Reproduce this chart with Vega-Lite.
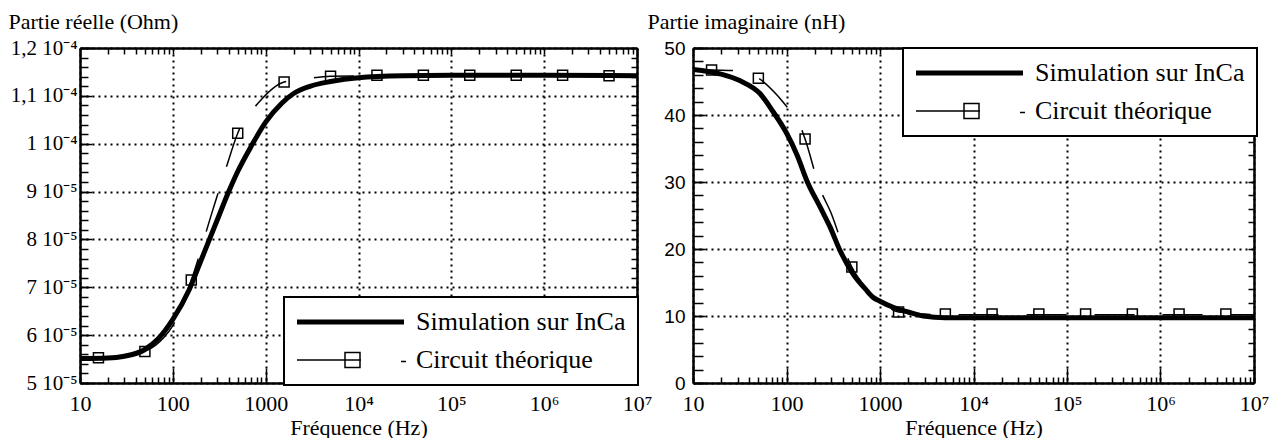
{
  "$schema": "https://vega.github.io/schema/vega-lite/v6.json",
  "background": "white",
  "padding": {"left": 8, "top": 10, "right": 0, "bottom": 0},
  "bounds": "flush",
  "spacing": 56,
  "config": {
    "font": "Liberation Serif",
    "view": {"stroke": null},
    "axis": {
      "domainColor": "black", "domainWidth": 2.5, "tickColor": "black", "tickWidth": 1.5,
      "labelColor": "black", "titleColor": "black", "labelFont": "Liberation Serif",
      "titleFont": "Liberation Serif", "titleFontWeight": "normal",
      "gridColor": "black", "gridDash": [2, 4], "gridWidth": 2, "gridOpacity": 1
    },
    "legend": {"labelFont": "Liberation Serif"}
  },
  "datasets": {
    "re": [
      {"k": "sim", "s": "Simulation sur InCa", "f": 10, "v": 5.51e-5},
      {"k": "sim", "s": "Simulation sur InCa", "f": 20, "v": 5.52e-5},
      {"k": "sim", "s": "Simulation sur InCa", "f": 30, "v": 5.56e-5},
      {"k": "sim", "s": "Simulation sur InCa", "f": 50, "v": 5.7e-5},
      {"k": "sim", "s": "Simulation sur InCa", "f": 70, "v": 5.93e-5},
      {"k": "sim", "s": "Simulation sur InCa", "f": 100, "v": 6.33e-5},
      {"k": "sim", "s": "Simulation sur InCa", "f": 150, "v": 6.95e-5},
      {"k": "sim", "s": "Simulation sur InCa", "f": 200, "v": 7.55e-5},
      {"k": "sim", "s": "Simulation sur InCa", "f": 300, "v": 8.4e-5},
      {"k": "sim", "s": "Simulation sur InCa", "f": 400, "v": 9.0e-5},
      {"k": "sim", "s": "Simulation sur InCa", "f": 500, "v": 9.42e-5},
      {"k": "sim", "s": "Simulation sur InCa", "f": 700, "v": 9.95e-5},
      {"k": "sim", "s": "Simulation sur InCa", "f": 1000, "v": 1.045e-4},
      {"k": "sim", "s": "Simulation sur InCa", "f": 1500, "v": 1.085e-4},
      {"k": "sim", "s": "Simulation sur InCa", "f": 2000, "v": 1.105e-4},
      {"k": "sim", "s": "Simulation sur InCa", "f": 3000, "v": 1.12e-4},
      {"k": "sim", "s": "Simulation sur InCa", "f": 5000, "v": 1.13e-4},
      {"k": "sim", "s": "Simulation sur InCa", "f": 10000, "v": 1.138e-4},
      {"k": "sim", "s": "Simulation sur InCa", "f": 30000, "v": 1.142e-4},
      {"k": "sim", "s": "Simulation sur InCa", "f": 100000, "v": 1.143e-4},
      {"k": "sim", "s": "Simulation sur InCa", "f": 1000000, "v": 1.143e-4},
      {"k": "sim", "s": "Simulation sur InCa", "f": 10000000, "v": 1.142e-4},
      {"k": "cir", "s": "Circuit théorique", "f": 10, "v": 5.5e-5},
      {"k": "cir", "s": "Circuit théorique", "f": 15.8, "v": 5.53e-5},
      {"k": "cir", "s": "Circuit théorique", "f": 30, "v": 5.57e-5},
      {"k": "cir", "s": "Circuit théorique", "f": 50, "v": 5.66e-5},
      {"k": "cir", "s": "Circuit théorique", "f": 80, "v": 5.95e-5},
      {"k": "cir", "s": "Circuit théorique", "f": 100, "v": 6.2e-5},
      {"k": "cir", "s": "Circuit théorique", "f": 158, "v": 7.15e-5},
      {"k": "cir", "s": "Circuit théorique", "f": 265, "v": 8.57e-5},
      {"k": "cir", "s": "Circuit théorique", "f": 374, "v": 9.49e-5},
      {"k": "cir", "s": "Circuit théorique", "f": 500, "v": 1.022e-4},
      {"k": "cir", "s": "Circuit théorique", "f": 850, "v": 1.087e-4},
      {"k": "cir", "s": "Circuit théorique", "f": 1580, "v": 1.129e-4},
      {"k": "cir", "s": "Circuit théorique", "f": 2400, "v": 1.134e-4},
      {"k": "cir", "s": "Circuit théorique", "f": 5000, "v": 1.141e-4},
      {"k": "cir", "s": "Circuit théorique", "f": 15800, "v": 1.142e-4},
      {"k": "cir", "s": "Circuit théorique", "f": 10000000, "v": 1.142e-4},
      {"k": "mk", "f": 15.8, "v": 5.53e-5},
      {"k": "mk", "f": 50, "v": 5.66e-5},
      {"k": "mk", "f": 158, "v": 7.15e-5},
      {"k": "mk", "f": 500, "v": 1.022e-4},
      {"k": "mk", "f": 1580, "v": 1.129e-4},
      {"k": "mk", "f": 5000, "v": 1.141e-4},
      {"k": "mk", "f": 15800, "v": 1.143e-4},
      {"k": "mk", "f": 50000, "v": 1.143e-4},
      {"k": "mk", "f": 158000, "v": 1.143e-4},
      {"k": "mk", "f": 500000, "v": 1.143e-4},
      {"k": "mk", "f": 1580000, "v": 1.143e-4},
      {"k": "mk", "f": 5000000, "v": 1.142e-4}
    ],
    "im": [
      {"k": "sim", "s": "Simulation sur InCa", "f": 10, "v": 46.8},
      {"k": "sim", "s": "Simulation sur InCa", "f": 20, "v": 46.1},
      {"k": "sim", "s": "Simulation sur InCa", "f": 32, "v": 45.1},
      {"k": "sim", "s": "Simulation sur InCa", "f": 52, "v": 43.2},
      {"k": "sim", "s": "Simulation sur InCa", "f": 71, "v": 40.6},
      {"k": "sim", "s": "Simulation sur InCa", "f": 101, "v": 37.2},
      {"k": "sim", "s": "Simulation sur InCa", "f": 130, "v": 34.0},
      {"k": "sim", "s": "Simulation sur InCa", "f": 165, "v": 30.2},
      {"k": "sim", "s": "Simulation sur InCa", "f": 230, "v": 26.2},
      {"k": "sim", "s": "Simulation sur InCa", "f": 292, "v": 23.3},
      {"k": "sim", "s": "Simulation sur InCa", "f": 373, "v": 19.8},
      {"k": "sim", "s": "Simulation sur InCa", "f": 514, "v": 16.3},
      {"k": "sim", "s": "Simulation sur InCa", "f": 700, "v": 14.0},
      {"k": "sim", "s": "Simulation sur InCa", "f": 841, "v": 12.8},
      {"k": "sim", "s": "Simulation sur InCa", "f": 1000, "v": 12.2},
      {"k": "sim", "s": "Simulation sur InCa", "f": 1380, "v": 11.3},
      {"k": "sim", "s": "Simulation sur InCa", "f": 2000, "v": 10.6},
      {"k": "sim", "s": "Simulation sur InCa", "f": 2900, "v": 10.0},
      {"k": "sim", "s": "Simulation sur InCa", "f": 5000, "v": 9.75},
      {"k": "sim", "s": "Simulation sur InCa", "f": 10000000, "v": 9.75},
      {"k": "cir", "s": "Circuit théorique", "f": 10, "v": 46.8},
      {"k": "cir", "s": "Circuit théorique", "f": 15.8, "v": 46.7},
      {"k": "cir", "s": "Circuit théorique", "f": 30, "v": 46.6},
      {"k": "cir", "s": "Circuit théorique", "f": 50, "v": 45.5},
      {"k": "cir", "s": "Circuit théorique", "f": 80, "v": 42.9},
      {"k": "cir", "s": "Circuit théorique", "f": 100, "v": 41.3},
      {"k": "cir", "s": "Circuit théorique", "f": 129, "v": 39.6},
      {"k": "cir", "s": "Circuit théorique", "f": 158, "v": 36.4},
      {"k": "cir", "s": "Circuit théorique", "f": 228, "v": 29.0},
      {"k": "cir", "s": "Circuit théorique", "f": 299, "v": 25.4},
      {"k": "cir", "s": "Circuit théorique", "f": 400, "v": 20.5},
      {"k": "cir", "s": "Circuit théorique", "f": 500, "v": 17.3},
      {"k": "cir", "s": "Circuit théorique", "f": 700, "v": 14.3},
      {"k": "cir", "s": "Circuit théorique", "f": 1000, "v": 12.3},
      {"k": "cir", "s": "Circuit théorique", "f": 1580, "v": 10.6},
      {"k": "cir", "s": "Circuit théorique", "f": 5000, "v": 10.2},
      {"k": "cir", "s": "Circuit théorique", "f": 10000000, "v": 10.2},
      {"k": "mk", "f": 15.8, "v": 46.7},
      {"k": "mk", "f": 50, "v": 45.5},
      {"k": "mk", "f": 158, "v": 36.4},
      {"k": "mk", "f": 500, "v": 17.3},
      {"k": "mk", "f": 1580, "v": 10.6},
      {"k": "mk", "f": 5000, "v": 10.3},
      {"k": "mk", "f": 15800, "v": 10.3},
      {"k": "mk", "f": 50000, "v": 10.3},
      {"k": "mk", "f": 158000, "v": 10.3},
      {"k": "mk", "f": 500000, "v": 10.3},
      {"k": "mk", "f": 1580000, "v": 10.3},
      {"k": "mk", "f": 5000000, "v": 10.3}
    ]
  },
  "resolve": {
    "scale": {"x": "independent", "y": "independent", "stroke": "independent", "strokeWidth": "independent"},
    "legend": {"stroke": "independent", "strokeWidth": "independent"}
  },
  "hconcat": [
    {
      "width": 557,
      "height": 335,
      "data": {"name": "re"},
      "resolve": {"axis": {"x": "independent", "y": "independent"}},
      "layer": [
        {
          "transform": [{"filter": "datum.k == 'cir'"}],
          "mark": {"type": "line", "strokeDash": [40, 28], "interpolate": "monotone"},
          "encoding": {
            "x": {"field": "f", "type": "quantitative", "scale": {"type": "log", "domain": [10, 10000000], "nice": false},
              "axis": {"orient": "bottom", "values": [10,20,30,40,50,60,70,80,90,100,200,300,400,500,600,700,800,900,1000,2000,3000,4000,5000,6000,7000,8000,9000,10000,20000,30000,40000,50000,60000,70000,80000,90000,100000,200000,300000,400000,500000,600000,700000,800000,900000,1000000,2000000,3000000,4000000,5000000,6000000,7000000,8000000,9000000,10000000], "labels": false, "grid": false, "domain": false, "tickSize": -6, "title": null}},
            "y": {"field": "v", "type": "quantitative", "scale": {"domain": [0.00005, 0.00012], "nice": false, "zero": false},
              "axis": {"orient": "left", "values": [0.00005,0.000052,0.000054,0.000056,0.000058,0.00006,0.000062,0.000064,0.000066,0.000068,0.00007,0.000072,0.000074,0.000076,0.000078,0.00008,0.000082,0.000084,0.000086,0.000088,0.00009,0.000092,0.000094,0.000096,0.000098,0.0001,0.000102,0.000104,0.000106,0.000108,0.00011,0.000112,0.000114,0.000116,0.000118,0.00012], "labels": false, "grid": false, "domain": false, "tickSize": -8, "title": null}},
            "stroke": {"field": "s", "type": "nominal", "scale": {"domain": ["Simulation sur InCa", "Circuit théorique"], "range": ["black", "black"]}},
            "strokeWidth": {"field": "s", "type": "ordinal", "scale": {"domain": ["Simulation sur InCa", "Circuit théorique"], "range": [5, 1.5]}}
          }
        },
        {
          "transform": [{"filter": "datum.k == 'sim'"}],
          "mark": {"type": "line", "interpolate": "monotone"},
          "encoding": {
            "x": {"field": "f", "type": "quantitative", "scale": {"type": "log", "domain": [10, 10000000], "nice": false},
              "axis": {"orient": "bottom", "values": [10,100,1000,10000,100000,1000000,10000000], "labelExpr": "datum.value == 10 ? '10' : datum.value == 100 ? '100' : datum.value == 1000 ? '1000' : datum.value == 10000 ? '10⁴' : datum.value == 100000 ? '10⁵' : datum.value == 1000000 ? '10⁶' : '10⁷'", "grid": true, "tickSize": -15, "labelPadding": 25, "labelFontSize": 22, "labelFlush": false, "title": "Fréquence (Hz)", "titleFontSize": 22, "titlePadding": 3}},
            "y": {"field": "v", "type": "quantitative", "scale": {"domain": [0.00005, 0.00012], "nice": false, "zero": false},
              "axis": {"orient": "left", "values": [0.00005,0.00006,0.00007,0.00008,0.00009,0.0001,0.00011,0.00012], "labelExpr": "datum.value < 0.0000999 ? format(round(datum.value*100000),'d') + ' 10⁻⁵' : replace(format(datum.value*10000,'.1~f'),'.',',') + ' 10⁻⁴'", "grid": true, "tickSize": -12, "labelPadding": 15, "labelFontSize": 21, "labelFlush": false, "title": "Partie réelle (Ohm)", "titleAngle": 0, "titleAlign": "left", "titleBaseline": "alphabetic", "titleX": -72, "titleY": -20, "titleFontSize": 22}},
            "stroke": {"field": "s", "type": "nominal", "scale": {"domain": ["Simulation sur InCa", "Circuit théorique"], "range": ["black", "black"]},
              "legend": {"title": null, "orient": "none", "legendX": 204, "legendY": 249, "fillColor": "white", "strokeColor": "black", "padding": 12, "rowPadding": 12, "labelFontSize": 26, "labelColor": "black", "labelLimit": 500, "labelOffset": 94, "symbolSize": 100, "symbolOffset": 0,
                "encode": {
                  "symbols": {"update": {"shape": {"signal": "datum.value == 'Simulation sur InCa' ? 'M-2.4,0H19' : 'M-2.4,0H10.4M7.2,-1.5H10.2V1.5H7.2ZM18.4,0.3H19.4'"}, "strokeDash": {"value": []}, "fill": {"value": "transparent"}, "opacity": {"value": 1}}},
                  "legend": {"update": {"strokeWidth": {"value": 2}}}
                }}},
            "strokeWidth": {"field": "s", "type": "ordinal", "scale": {"domain": ["Simulation sur InCa", "Circuit théorique"], "range": [5, 1.5]}}
          }
        },
        {
          "transform": [{"filter": "datum.k == 'mk'"}],
          "mark": {"type": "point", "shape": "square", "size": 100, "filled": false, "stroke": "black", "strokeWidth": 1.5, "opacity": 1},
          "encoding": {
            "x": {"field": "f", "type": "quantitative", "scale": {"type": "log", "domain": [10, 10000000], "nice": false},
              "axis": {"orient": "top", "values": [10,20,30,40,50,60,70,80,90,100,200,300,400,500,600,700,800,900,1000,2000,3000,4000,5000,6000,7000,8000,9000,10000,20000,30000,40000,50000,60000,70000,80000,90000,100000,200000,300000,400000,500000,600000,700000,800000,900000,1000000,2000000,3000000,4000000,5000000,6000000,7000000,8000000,9000000,10000000], "labels": false, "grid": false, "tickSize": -6, "title": null}},
            "y": {"field": "v", "type": "quantitative", "scale": {"domain": [0.00005, 0.00012], "nice": false, "zero": false},
              "axis": {"orient": "right", "values": [0.00005,0.000052,0.000054,0.000056,0.000058,0.00006,0.000062,0.000064,0.000066,0.000068,0.00007,0.000072,0.000074,0.000076,0.000078,0.00008,0.000082,0.000084,0.000086,0.000088,0.00009,0.000092,0.000094,0.000096,0.000098,0.0001,0.000102,0.000104,0.000106,0.000108,0.00011,0.000112,0.000114,0.000116,0.000118,0.00012], "labels": false, "grid": false, "tickSize": -6, "title": null}}
          }
        }
      ]
    },
    {
      "width": 561,
      "height": 335,
      "data": {"name": "im"},
      "resolve": {"axis": {"x": "independent", "y": "independent"}},
      "layer": [
        {
          "transform": [{"filter": "datum.k == 'cir'"}],
          "mark": {"type": "line", "strokeDash": [40, 28], "interpolate": "monotone"},
          "encoding": {
            "x": {"field": "f", "type": "quantitative", "scale": {"type": "log", "domain": [10, 10000000], "nice": false},
              "axis": {"orient": "bottom", "values": [10,20,30,40,50,60,70,80,90,100,200,300,400,500,600,700,800,900,1000,2000,3000,4000,5000,6000,7000,8000,9000,10000,20000,30000,40000,50000,60000,70000,80000,90000,100000,200000,300000,400000,500000,600000,700000,800000,900000,1000000,2000000,3000000,4000000,5000000,6000000,7000000,8000000,9000000,10000000], "labels": false, "grid": false, "domain": false, "tickSize": -6, "title": null}},
            "y": {"field": "v", "type": "quantitative", "scale": {"domain": [0, 50], "nice": false},
              "axis": {"orient": "left", "values": [0,2,4,6,8,10,12,14,16,18,20,22,24,26,28,30,32,34,36,38,40,42,44,46,48,50], "labels": false, "grid": false, "domain": false, "tickSize": -10, "title": null}},
            "stroke": {"field": "s", "type": "nominal", "scale": {"domain": ["Simulation sur InCa", "Circuit théorique"], "range": ["black", "black"]}},
            "strokeWidth": {"field": "s", "type": "ordinal", "scale": {"domain": ["Simulation sur InCa", "Circuit théorique"], "range": [5, 1.5]}}
          }
        },
        {
          "transform": [{"filter": "datum.k == 'sim'"}],
          "mark": {"type": "line", "interpolate": "monotone"},
          "encoding": {
            "x": {"field": "f", "type": "quantitative", "scale": {"type": "log", "domain": [10, 10000000], "nice": false},
              "axis": {"orient": "bottom", "values": [10,100,1000,10000,100000,1000000,10000000], "labelExpr": "datum.value == 10 ? '10' : datum.value == 100 ? '100' : datum.value == 1000 ? '1000' : datum.value == 10000 ? '10⁴' : datum.value == 100000 ? '10⁵' : datum.value == 1000000 ? '10⁶' : '10⁷'", "grid": true, "tickSize": -15, "labelPadding": 25, "labelFontSize": 22, "labelFlush": false, "title": "Fréquence (Hz)", "titleFontSize": 22, "titlePadding": 3}},
            "y": {"field": "v", "type": "quantitative", "scale": {"domain": [0, 50], "nice": false},
              "axis": {"orient": "left", "values": [0,10,20,30,40,50], "grid": true, "tickSize": -12, "labelPadding": 20, "labelFontSize": 19, "labelFont": "Liberation Sans", "labelFlush": false, "title": "Partie imaginaire (nH)", "titleAngle": 0, "titleAlign": "left", "titleBaseline": "alphabetic", "titleX": -46, "titleY": -20, "titleFontSize": 22}},
            "stroke": {"field": "s", "type": "nominal", "scale": {"domain": ["Simulation sur InCa", "Circuit théorique"], "range": ["black", "black"]},
              "legend": {"title": null, "orient": "none", "legendX": 210, "legendY": 0, "fillColor": "white", "strokeColor": "black", "padding": 12, "rowPadding": 12, "labelFontSize": 26, "labelColor": "black", "labelLimit": 500, "labelOffset": 94, "symbolSize": 100, "symbolOffset": 0,
                "encode": {
                  "symbols": {"update": {"shape": {"signal": "datum.value == 'Simulation sur InCa' ? 'M-2.4,0H19' : 'M-2.4,0H10.4M7.2,-1.5H10.2V1.5H7.2ZM18.4,0.3H19.4'"}, "strokeDash": {"value": []}, "fill": {"value": "transparent"}, "opacity": {"value": 1}}},
                  "legend": {"update": {"strokeWidth": {"value": 2}}}
                }}},
            "strokeWidth": {"field": "s", "type": "ordinal", "scale": {"domain": ["Simulation sur InCa", "Circuit théorique"], "range": [5, 1.5]}}
          }
        },
        {
          "transform": [{"filter": "datum.k == 'mk'"}],
          "mark": {"type": "point", "shape": "square", "size": 100, "filled": false, "stroke": "black", "strokeWidth": 1.5, "opacity": 1},
          "encoding": {
            "x": {"field": "f", "type": "quantitative", "scale": {"type": "log", "domain": [10, 10000000], "nice": false},
              "axis": {"orient": "top", "values": [10,20,30,40,50,60,70,80,90,100,200,300,400,500,600,700,800,900,1000,2000,3000,4000,5000,6000,7000,8000,9000,10000,20000,30000,40000,50000,60000,70000,80000,90000,100000,200000,300000,400000,500000,600000,700000,800000,900000,1000000,2000000,3000000,4000000,5000000,6000000,7000000,8000000,9000000,10000000], "labels": false, "grid": false, "tickSize": -6, "title": null}},
            "y": {"field": "v", "type": "quantitative", "scale": {"domain": [0, 50], "nice": false},
              "axis": {"orient": "right", "values": [0,2,4,6,8,10,12,14,16,18,20,22,24,26,28,30,32,34,36,38,40,42,44,46,48,50], "labels": false, "grid": false, "tickSize": -6, "title": null}}
          }
        }
      ]
    }
  ]
}
